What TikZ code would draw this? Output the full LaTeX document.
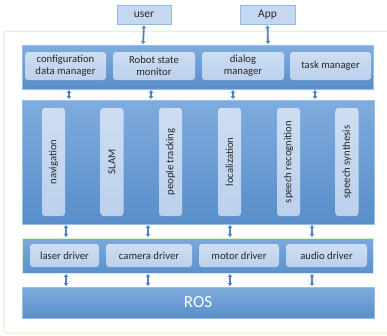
\documentclass[tikz,border=0pt]{standalone}
\usepackage{fontspec}
\setmainfont{Carlito}
\usetikzlibrary{arrows.meta}
\definecolor{bandtop}{RGB}{128,172,222}
\definecolor{bandbot}{RGB}{88,142,202}
\definecolor{bandedge}{RGB}{150,190,230}
\definecolor{boxtop}{RGB}{205,222,243}
\definecolor{boxbot}{RGB}{188,208,236}
\definecolor{topfill}{RGB}{196,216,240}
\definecolor{topedge}{RGB}{150,185,225}
\definecolor{greenedge}{RGB}{218,240,200}
\definecolor{arrowc}{RGB}{82,132,192}
\definecolor{txt}{RGB}{40,40,40}
\tikzset{
  band/.style={draw=bandedge, line width=0.8pt, top color=bandtop, bottom color=bandbot},
  inbox/.style={rounded corners=3pt, top color=boxtop, bottom color=boxbot, draw=none,
     align=center, text=txt, font=\fontsize{10.7}{12}\selectfont},
  vbox/.style={rounded corners=3pt, top color=boxtop, bottom color=boxbot, draw=none},
  vtext/.style={rotate=90, text=txt, font=\fontsize{10.7}{12}\selectfont},
  userbox/.style={draw=topedge, fill=topfill, line width=0.8pt, text=txt, font=\fontsize{11.5}{12}\selectfont},
  darr/.style={arrowc, line width=1.8pt, {Stealth[length=3.2pt,width=5pt]}-{Stealth[length=3.2pt,width=5pt]}, shorten <=1pt, shorten >=1pt}
}
\begin{document}
\begin{tikzpicture}[x=1pt,y=-1pt]
\useasboundingbox (0,0) rectangle (387,335);
% outer green frame
\draw[greenedge, line width=1pt, rounded corners=2pt] (4,31) rectangle (395,333);
% user / app
\node[userbox, minimum width=54pt, minimum height=19pt] (user) at (144,14.5) {user};
\node[userbox, minimum width=55pt, minimum height=19pt] (app) at (267.5,14.5) {App};
% top band
\path[band] (22,45) rectangle (373,89);
\coordinate (topT1) at (143,45); \coordinate (topT2) at (268,45);
\node[inbox, minimum width=81pt, minimum height=28pt] (cfg) at (65.5,66) {configuration\\data manager};
\node[inbox, minimum width=82pt, minimum height=28pt] (rsm) at (154,66) {Robot state\\monitor};
\node[inbox, minimum width=82pt, minimum height=28pt] (dlg) at (243,66) {dialog\\manager};
\node[inbox, minimum width=81pt, minimum height=28pt] (tsk) at (330.5,66) {task manager};
% middle band
\path[band] (22,100) rectangle (374,224);
\foreach \n/\x/\t in {nav/53.5/navigation, slam/112/SLAM, ppl/170.5/people tracking, loc/229.5/localization, sr/288.5/speech recognition, ss/347/speech synthesis}{
  \node[vbox, minimum width=23pt, minimum height=108pt] (\n) at (\x,162) {};
  \node[vtext] at (\n) {\t};
}
% driver band
\path[draw=greenedge, line width=0.8pt, top color=bandtop!90!bandbot, bottom color=bandbot!90!bandtop] (22,238) rectangle (373,273);
\node[inbox, minimum width=69pt, minimum height=23pt] (las) at (64.5,255.5) {laser driver};
\node[inbox, minimum width=86pt, minimum height=23pt] (cam) at (149,255.5) {camera driver};
\node[inbox, minimum width=80pt, minimum height=23pt] (mot) at (239,255.5) {motor driver};
\node[inbox, minimum width=81pt, minimum height=23pt] (aud) at (326.5,255.5) {audio driver};
% ROS
\node[band, minimum width=352pt, minimum height=31pt, text=white, font=\fontsize{17}{18}\selectfont] (ros) at (198,302.5) {ROS};
% arrows user/app -> top band
\draw[darr] (user.south) -- (topT1);
\draw[darr] (app.south) -- (topT2);
% top band <-> middle band
\foreach \x in {69,151,233,315}{
  \coordinate (a\x) at (\x,89); \coordinate (b\x) at (\x,100);
  \draw[darr] (a\x) -- (b\x);
}
% middle <-> driver, driver <-> ROS
\foreach \x in {66,148,230,312}{
  \coordinate (c\x) at (\x,224); \coordinate (d\x) at (\x,238);
  \coordinate (e\x) at (\x,273); \coordinate (f\x) at (\x,287);
  \draw[darr] (c\x) -- (d\x);
  \draw[darr] (e\x) -- (f\x);
}
\end{tikzpicture}
\end{document}
